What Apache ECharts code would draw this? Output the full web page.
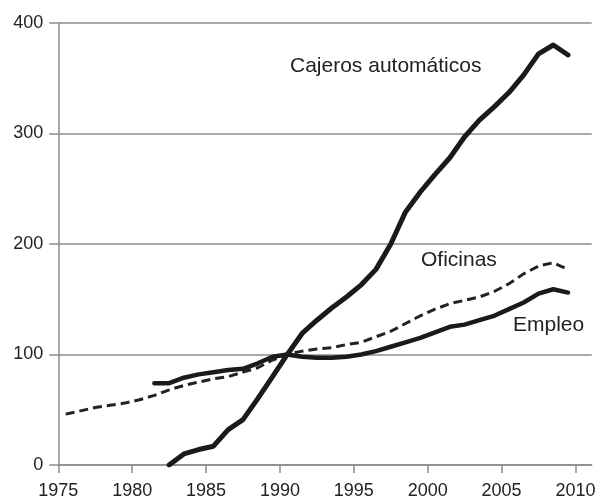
<!DOCTYPE html>
<html>
<head>
<meta charset="utf-8">
<script src="https://cdn.jsdelivr.net/npm/echarts@6/dist/echarts.min.js"></script>
<style>html,body{margin:0;padding:0;background:#fff}#c{width:603px;height:500px}</style>
</head>
<body>
<div id="c"></div>
<script>
const yearTicks = [1975, 1980, 1985, 1990, 1995, 2000, 2005, 2010];
const yTicks = [0, 100, 200, 300, 400];

const cajerosYears = [1982.5,1983.5,1984.5,1985.5,1986.5,1987.5,1988.5,1989.5,1990.5,1991.5,1992.5,1993.5,1994.5,1995.5,1996.5,1997.5,1998.5,1999.5,2000.5,2001.5,2002.5,2003.5,2004.5,2005.5,2006.5,2007.5,2008.5,2009.5];
const cajeros = [0,10,14,17,32,41,60,80,100,119,131,142,152,163,177,200,229,247,263,278,297,312,324,337,353,372,380,371];

const empleoYears = [1981.5,1982.5,1983.5,1984.5,1985.5,1986.5,1987.5,1988.5,1989.5,1990.5,1991.5,1992.5,1993.5,1994.5,1995.5,1996.5,1997.5,1998.5,1999.5,2000.5,2001.5,2002.5,2003.5,2004.5,2005.5,2006.5,2007.5,2008.5,2009.5];
const empleo = [74,74,79,82,84,86,87,92,98,100,98,97,97,98,100,103,107,111,115,120,125,127,131,135,141,147,155,159,156];

const oficinasYears = [1975.5,1976.5,1977.5,1978.5,1979.5,1980.5,1981.5,1982.5,1983.5,1984.5,1985.5,1986.5,1987.5,1988.5,1989.5,1990.5,1991.5,1992.5,1993.5,1994.5,1995.5,1996.5,1997.5,1998.5,1999.5,2000.5,2001.5,2002.5,2003.5,2004.5,2005.5,2006.5,2007.5,2008.5,2009.5];
const oficinas = [46,49,52,54,56,59,63,68,72,75,78,80,84,88,95,100,103,105,106,109,111,116,121,128,135,141,146,149,152,157,164,173,180,183,177];

const labels = [
  {text: 'Cajeros automáticos', left: 290, top: 56},
  {text: 'Oficinas', left: 421, top: 250},
  {text: 'Empleo', left: 513, top: 315}
];

function pairs(xs, ys) { return xs.map((x, i) => [x, ys[i]]); }

const chart = echarts.init(document.getElementById('c'));
const font = 'Liberation Sans, Arial, sans-serif';
const grey = '#8c8c8c';
chart.setOption({
  animation: false,
  textStyle: {fontFamily: font},
  grid: {left: 58.3, right: 11.3, top: 22.9, bottom: 34.3, containLabel: false},
  xAxis: {
    type: 'value', min: 1975, max: 2011.1, interval: 5,
    axisLine: {show: true, lineStyle: {color: grey, width: 1.5}},
    axisTick: {show: true, length: 8, lineStyle: {color: grey, width: 1.5}, customValues: yearTicks},
    axisLabel: {color: '#222', fontSize: 18, fontFamily: font, margin: 17, customValues: yearTicks,
                formatter: v => String(v)},
    splitLine: {show: false}
  },
  yAxis: {
    type: 'value', min: 0, max: 400, interval: 100,
    axisLine: {show: true, lineStyle: {color: grey, width: 1.5}},
    axisTick: {show: true, length: 9, lineStyle: {color: grey, width: 1.5}},
    axisLabel: {color: '#222', fontSize: 18, fontFamily: font, margin: 15, customValues: yTicks,
                formatter: v => String(v)},
    splitLine: {show: true, lineStyle: {color: grey, width: 1.5}}
  },
  series: [
    {name: 'Oficinas', type: 'line', data: pairs(oficinasYears, oficinas), symbol: 'none',
     lineStyle: {color: '#222', width: 3, type: [9, 5]}, z: 2},
    {name: 'Empleo', type: 'line', data: pairs(empleoYears, empleo), symbol: 'none',
     lineStyle: {color: '#1a1a1a', width: 4.5, cap: 'round', join: 'round'}, z: 3},
    {name: 'Cajeros automáticos', type: 'line', data: pairs(cajerosYears, cajeros), symbol: 'none',
     lineStyle: {color: '#1a1a1a', width: 5, cap: 'round', join: 'round'}, z: 4}
  ],
  graphic: labels.map(l => ({
    type: 'text', left: l.left, top: l.top,
    style: {text: l.text, fill: '#222', font: '21px ' + font}
  }))
});
</script>
</body>
</html>
